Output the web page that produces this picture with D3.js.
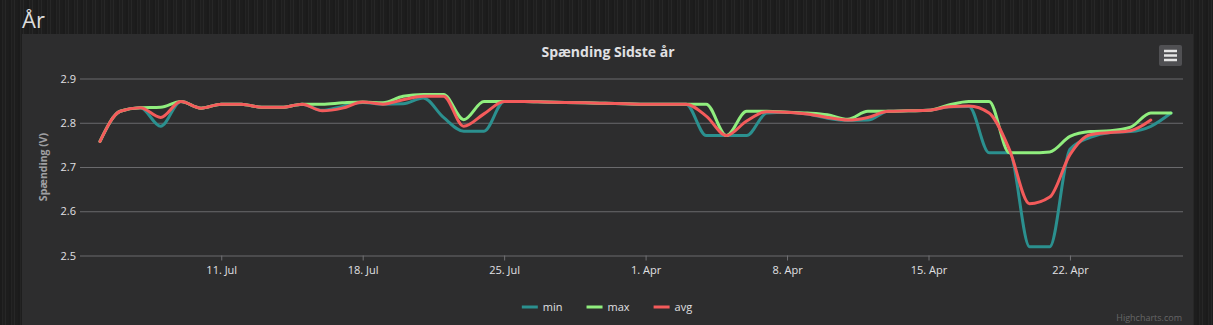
<!DOCTYPE html>
<html>
<head>
<meta charset="utf-8">
<script src="https://cdn.jsdelivr.net/npm/d3@7"></script>
<style>
  html, body {
    margin: 0; padding: 0; width: 1213px; height: 325px; overflow: hidden;
    background-color: #1f1f1f;
    background-image: repeating-linear-gradient(90deg,
      #1b1b1b 0px, #1b1b1b 2px, #242424 2px, #242424 3px,
      #1e1e1e 3px, #1e1e1e 5px, #272727 5px, #272727 6px, #1d1d1d 6px, #1d1d1d 9px);
  }
  svg { position: absolute; left: 0; top: 0; }
  text { font-family: "Open Sans", "Noto Sans", sans-serif; }
</style>
</head>
<body>
<svg id="chart" width="1213" height="325"></svg>
<script>
// Daily categories (ordinal axis: July block followed by April block)
const categories = [
  "5. Jul","6. Jul","7. Jul","8. Jul","9. Jul","10. Jul","11. Jul","12. Jul","13. Jul",
  "14. Jul","15. Jul","16. Jul","17. Jul","18. Jul","19. Jul","20. Jul","21. Jul","22. Jul",
  "23. Jul","24. Jul","25. Jul","26. Jul","27. Jul","28. Jul","29. Jul","30. Jul","31. Jul",
  "1. Apr","2. Apr","3. Apr","4. Apr","5. Apr","6. Apr","7. Apr","8. Apr","9. Apr",
  "10. Apr","11. Apr","12. Apr","13. Apr","14. Apr","15. Apr","16. Apr","17. Apr","18. Apr",
  "19. Apr","20. Apr","21. Apr","22. Apr","23. Apr","24. Apr","25. Apr","26. Apr","27. Apr"
];

const minValues = [
  2.758, 2.826, 2.834, 2.792, 2.848, 2.833, 2.842, 2.842, 2.835,
  2.835, 2.842, 2.828, 2.837, 2.846, 2.842, 2.843, 2.856, 2.812,
  2.781, 2.781, 2.848, 2.848, 2.847, 2.846, 2.845, 2.844, 2.843,
  2.842, 2.842, 2.842, 2.771, 2.771, 2.771, 2.822, 2.824, 2.820,
  2.810, 2.805, 2.806, 2.826, 2.827, 2.828, 2.836, 2.837, 2.732,
  2.732, 2.520, 2.520, 2.740, 2.767, 2.778, 2.780, 2.792, 2.822
];

const maxValues = [
  2.758, 2.826, 2.834, 2.835, 2.848, 2.833, 2.842, 2.842, 2.835,
  2.835, 2.842, 2.842, 2.845, 2.847, 2.845, 2.860, 2.864, 2.864,
  2.807, 2.848, 2.848, 2.848, 2.847, 2.846, 2.845, 2.844, 2.843,
  2.842, 2.842, 2.842, 2.842, 2.771, 2.826, 2.826, 2.824, 2.822,
  2.818, 2.808, 2.826, 2.826, 2.827, 2.828, 2.840, 2.848, 2.848,
  2.732, 2.732, 2.734, 2.769, 2.780, 2.782, 2.790, 2.822, 2.822
];

const avgValues = [
  2.758, 2.826, 2.834, 2.812, 2.848, 2.833, 2.842, 2.842, 2.835,
  2.835, 2.842, 2.827, 2.833, 2.847, 2.842, 2.852, 2.860, 2.860,
  2.792, 2.820, 2.848, 2.848, 2.847, 2.846, 2.845, 2.844, 2.843,
  2.842, 2.842, 2.842, 2.815, 2.771, 2.804, 2.825, 2.824, 2.820,
  2.812, 2.806, 2.812, 2.826, 2.827, 2.828, 2.836, 2.838, 2.822,
  2.740, 2.617, 2.632, 2.728, 2.773, 2.778, 2.782, 2.806, null
];

const xTickLabels = ["11. Jul", "18. Jul", "25. Jul", "1. Apr", "8. Apr", "15. Apr", "22. Apr"];
const yTicks = [2.5, 2.6, 2.7, 2.8, 2.9];

const series = [
  { name: "min", values: minValues, color: "#2b908f" },
  { name: "max", values: maxValues, color: "#90ee7e" },
  { name: "avg", values: avgValues, color: "#f45b5b" }
];

const svg = d3.select("#chart");

// Page heading
svg.append("text")
  .attr("x", 22).attr("y", 28)
  .attr("fill", "#dcdcdc")
  .style("font-size", "22px")
  .text("År");

// Chart panel
const panel = { left: 22, top: 34, right: 1193, bottom: 340 };
svg.append("rect")
  .attr("x", panel.left).attr("y", panel.top)
  .attr("width", panel.right - panel.left).attr("height", panel.bottom - panel.top)
  .attr("fill", "#2d2d2e");

const plot = { left: 80, right: 1183, top: 78.5, bottom: 255.5 };

const x = d3.scalePoint().domain(categories).range([100, 1171]);
const y = d3.scaleLinear().domain([2.5, 2.9]).range([plot.bottom, plot.top]);

// Title
svg.append("text")
  .attr("x", 608).attr("y", 57)
  .attr("text-anchor", "middle")
  .attr("fill", "#e0e0e3")
  .style("font-size", "14px")
  .style("font-weight", "bold")
  .text("Spænding Sidste år");

// Y axis with grid lines
const yAxis = svg.append("g")
  .attr("transform", `translate(${plot.left},0)`)
  .call(d3.axisLeft(y)
    .tickValues(yTicks)
    .tickSize(-(plot.right - plot.left))
    .tickPadding(4)
    .tickFormat(d3.format(".1f")));
yAxis.select(".domain").remove();
yAxis.selectAll(".tick line")
  .attr("stroke", "#6a6a6d")
  .attr("stroke-width", 1);
yAxis.selectAll(".tick text")
  .attr("fill", "#e0e0e3")
  .style("font-size", "11px")
  .style("font-family", "'Open Sans', 'Noto Sans', sans-serif");

// Y axis title
svg.append("text")
  .attr("transform", `translate(47,${(plot.top + plot.bottom) / 2}) rotate(-90)`)
  .attr("text-anchor", "middle")
  .attr("fill", "#a0a0a3")
  .style("font-size", "10.5px")
  .style("font-weight", "bold")
  .text("Spænding (V)");

// X axis
const xAxis = svg.append("g")
  .attr("transform", `translate(0,${plot.bottom})`)
  .call(d3.axisBottom(x)
    .tickValues(xTickLabels)
    .tickSize(5)
    .tickPadding(6));
xAxis.select(".domain").remove();
xAxis.selectAll(".tick line").attr("stroke", "#707073");
xAxis.selectAll(".tick text")
  .attr("fill", "#e0e0e3")
  .style("font-size", "11px")
  .style("font-family", "'Open Sans', 'Noto Sans', sans-serif");

// Series lines
const line = d3.line()
  .defined(d => d.v !== null)
  .x(d => x(d.c))
  .y(d => y(d.v))
  .curve(d3.curveMonotoneX);

series.forEach(s => {
  const pts = categories.map((c, i) => ({ c, v: s.values[i] }));
  svg.append("path")
    .datum(pts)
    .attr("fill", "none")
    .attr("stroke", s.color)
    .attr("stroke-width", 3)
    .attr("stroke-linejoin", "round")
    .attr("stroke-linecap", "round")
    .attr("d", line);
});

// Legend
const legend = svg.append("g");
let lx = 0;
series.forEach(s => {
  const item = legend.append("g").attr("transform", `translate(${lx},0)`);
  item.append("line")
    .attr("x1", 0).attr("x2", 16).attr("y1", 0).attr("y2", 0)
    .attr("stroke", s.color).attr("stroke-width", 3);
  const t = item.append("text")
    .attr("x", 21).attr("y", 4)
    .attr("fill", "#e0e0e3")
    .style("font-size", "11px")
    .text(s.name);
  lx += 21 + t.node().getComputedTextLength() + 24;
});
const legendWidth = lx - 24;
legend.attr("transform", `translate(${607 - legendWidth / 2},307)`);

// Export menu button
const btn = svg.append("g").attr("transform", "translate(1159,45)");
btn.append("rect")
  .attr("width", 23).attr("height", 21).attr("rx", 2)
  .attr("fill", "#505053");
[6, 10.5, 15].forEach(yy => {
  btn.append("line")
    .attr("x1", 5).attr("x2", 18).attr("y1", yy).attr("y2", yy)
    .attr("stroke", "#e6e6e6").attr("stroke-width", 2.5);
});

// Credits
svg.append("text")
  .attr("x", 1182).attr("y", 321)
  .attr("text-anchor", "end")
  .attr("fill", "#666")
  .style("font-size", "9px")
  .text("Highcharts.com");
</script>
</body>
</html>
